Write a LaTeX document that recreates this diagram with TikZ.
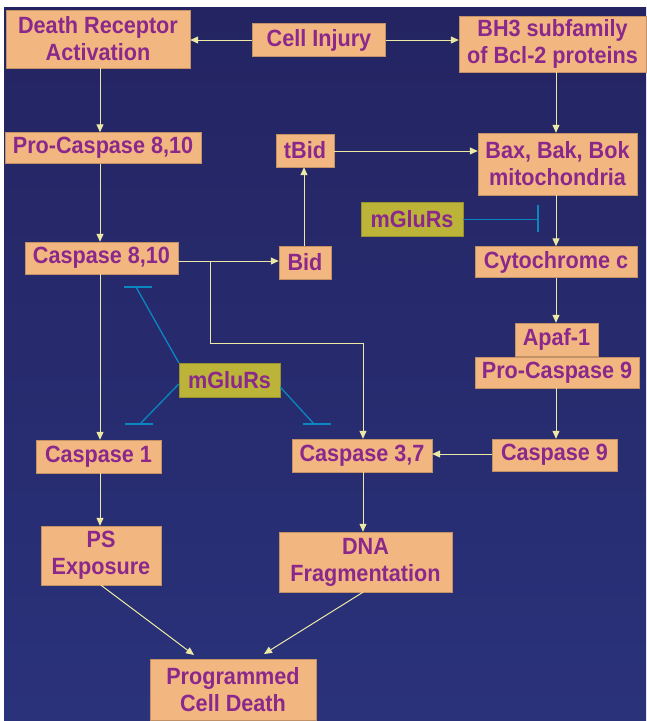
\documentclass[tikz,border=0pt]{standalone}
\usepackage{fontspec}
\setmainfont{Liberation Sans}
\newfontfamily\boxfont[FakeStretch=0.92]{Liberation Sans}
\usetikzlibrary{arrows.meta,calc}
\definecolor{bgtop}{RGB}{36,36,98}
\definecolor{bgbot}{RGB}{42,50,122}
\definecolor{peach}{RGB}{242,182,128}
\definecolor{olivec}{RGB}{188,180,56}
\definecolor{txt}{RGB}{138,40,140}
\definecolor{arrowc}{RGB}{236,232,165}
\definecolor{inhc}{RGB}{10,135,190}
\begin{document}
\begin{tikzpicture}[x=1pt,y=-1pt,
  box/.style={fill=peach, draw=peach!80!black, line width=0.4pt, text=txt,
    font=\boxfont\bfseries\fontsize{23.5}{27}\selectfont, align=center, inner sep=0pt},
  olivebox/.style={box, fill=olivec, draw=olivec!80!black},
  arr/.style={draw=arrowc, line width=1pt, -{Triangle[length=8pt,width=7pt]}},
  inh/.style={draw=inhc, line width=1.3pt}]
\useasboundingbox (0,0) rectangle (646,721);
\fill[white] (0,0) rectangle (646,721);
\shade[top color=bgtop,bottom color=bgbot] (4,7) rectangle (646,721);

\node[box, minimum width=184pt, minimum height=58pt] (dra) at (98,39) {Death Receptor\\Activation};
\node[box, minimum width=133pt, minimum height=33pt] (ci) at (319,40) {Cell Injury};
\node[box, minimum width=187pt, minimum height=56pt] (bh3) at (552.5,44) {BH3 subfamily\\of Bcl-2 proteins};
\node[box, minimum width=196pt, minimum height=31pt] (pc810) at (103,148) {Pro-Caspase 8,10};
\node[box, minimum width=58pt, minimum height=33pt] (tbid) at (305,150.5) {tBid};
\node[box, minimum width=159pt, minimum height=62pt] (bax) at (557.5,164) {Bax, Bak, Bok\\mitochondria};
\node[olivebox, minimum width=102pt, minimum height=34pt] (mg1) at (412,219.5) {mGluRs};
\node[box, minimum width=162pt, minimum height=31pt] (cyt) at (556,262) {Cytochrome c};
\node[box, minimum width=153pt, minimum height=32pt] (c810) at (101.5,258) {Caspase 8,10};
\node[box, minimum width=52pt, minimum height=33pt] (bid) at (305,262.5) {Bid};
\node[box, minimum width=83pt, minimum height=33pt] (apaf) at (556.5,339.5) {Apaf-1};
\node[box, minimum width=164pt, minimum height=31pt] (pc9) at (557,372.5) {Pro-Caspase 9};
\node[olivebox, minimum width=101pt, minimum height=34pt] (mg2) at (229.5,380) {mGluRs};
\node[box, minimum width=125pt, minimum height=33pt] (c1) at (98.5,456.5) {Caspase 1};
\node[box, minimum width=140pt, minimum height=33pt] (c37) at (362,455.5) {Caspase 3,7};
\node[box, minimum width=125pt, minimum height=32pt] (c9) at (554.5,455) {Caspase 9};
\node[box, minimum width=120pt, minimum height=59pt] (ps) at (101,555.5) {PS\\Exposure};
\node[box, minimum width=173pt, minimum height=60pt] (dna) at (365.5,562) {DNA\\Fragmentation};
\node[box, minimum width=166pt, minimum height=61pt] (pcd) at (233,689.5) {Programmed\\Cell Death};

\coordinate (xL) at (100,0);
\coordinate (xR) at (556,0);
\coordinate (xB) at (304,0);
\coordinate (xM) at (363,0);
\coordinate (yA) at (0,40);
\coordinate (yC) at (0,261);
\coordinate (yT) at (0,151);
\coordinate (y9) at (0,454);
\coordinate (brA) at (210,261);
\coordinate (brB) at (210,343);
\coordinate (brC) at (363,343);
\coordinate (pcdA) at (194,655);
\coordinate (pcdB) at (264,654);

\draw[arr] (ci.west |- yA) -- (dra.east |- yA);
\draw[arr] (ci.east |- yA) -- (bh3.west |- yA);
\draw[arr] (dra.south -| xL) -- (pc810.north -| xL);
\draw[arr] (bh3.south -| xR) -- (bax.north -| xR);
\draw[arr] (pc810.south -| xL) -- (c810.north -| xL);
\draw[arr] (tbid.east |- yT) -- (bax.west |- yT);
\draw[arr] (bid.north -| xB) -- (tbid.south -| xB);
\draw[arr] (bax.south -| xR) -- (cyt.north -| xR);
\draw[arr] (c810.east |- yC) -- (bid.west |- yC);
\draw[arr] (brA) -- (brB) -- (brC) -- (c37.north -| xM);
\draw[arr] (c810.south -| xL) -- (c1.north -| xL);
\draw[arr] (cyt.south -| xR) -- (apaf.north -| xR);
\draw[arr] (pc9.south -| xR) -- (c9.north -| xR);
\draw[arr] (c9.west |- y9) -- (c37.east |- y9);
\draw[arr] (c1.south -| xL) -- (ps.north -| xL);
\draw[arr] (c37.south -| xM) -- (dna.north -| xM);
\draw[arr] (ps.south) -- (pcdA);
\draw[arr] (dna.south -| xM) -- (pcdB);

\coordinate (bUL) at (136,287);
\coordinate (bUL1) at (124,287);
\coordinate (bUL2) at (152,287);
\coordinate (bLL) at (140,424);
\coordinate (bLL1) at (125,424);
\coordinate (bLL2) at (153,424);
\coordinate (bLR) at (314,424);
\coordinate (bLR1) at (303,424);
\coordinate (bLR2) at (331,424);
\coordinate (bR) at (538,219.5);
\coordinate (bR1) at (538,205);
\coordinate (bR2) at (538,232);

\draw[inh] (mg2.north west) -- (bUL);
\draw[inh] (bUL1) -- (bUL2);
\draw[inh] ([yshift=-4pt]mg2.west) -- (bLL);
\draw[inh] (bLL1) -- (bLL2);
\draw[inh] ([yshift=-7pt]mg2.east) -- (bLR);
\draw[inh] (bLR1) -- (bLR2);
\draw[inh] (mg1.east) -- (bR);
\draw[inh] (bR1) -- (bR2);
\end{tikzpicture}
\end{document}
